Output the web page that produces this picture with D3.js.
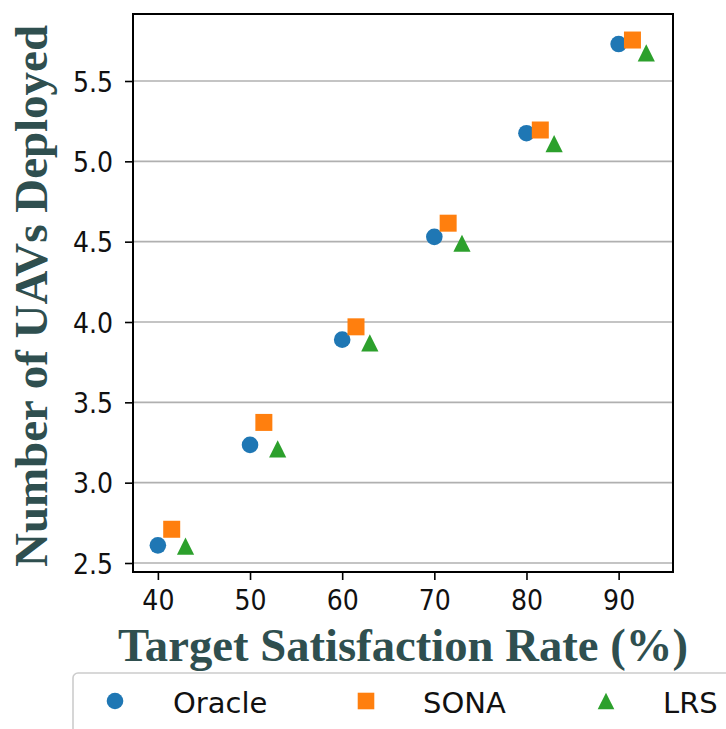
<!DOCTYPE html>
<html>
<head>
<meta charset="utf-8">
<script src="https://cdn.jsdelivr.net/npm/d3@7"></script>
<style>
  html, body { margin: 0; padding: 0; background: #fff; }
  svg { display: block; }
</style>
</head>
<body>
<svg id="chart" width="726" height="729"></svg>
<script>
// ---- data ----
const xCategories = [40, 50, 60, 70, 80, 90];
const oracleX = [40, 50, 60, 70, 80, 90];
const oracleY = [2.61, 3.235, 3.89, 4.53, 5.175, 5.73];
const sonaX = [41.5, 51.5, 61.5, 71.5, 81.5, 91.5];
const sonaY = [2.71, 3.375, 3.97, 4.615, 5.195, 5.755];
const lrsX = [43, 53, 63, 73, 83, 93];
const lrsY = [2.605, 3.21, 3.87, 4.49, 5.11, 5.675];
const xTicks = [40, 50, 60, 70, 80, 90];
const yTicks = [2.5, 3.0, 3.5, 4.0, 4.5, 5.0, 5.5];
const seriesNames = ["Oracle", "SONA", "LRS"];
const seriesColors = ["#1f77b4", "#ff7f0e", "#2ca02c"];

const series = [
  {name: seriesNames[0], xs: oracleX, ys: oracleY, color: seriesColors[0], shape: "circle"},
  {name: seriesNames[1], xs: sonaX, ys: sonaY, color: seriesColors[1], shape: "square"},
  {name: seriesNames[2], xs: lrsX, ys: lrsY, color: seriesColors[2], shape: "triangle"}
];

// ---- layout ----
const L = 133, R = 673, T = 14, B = 572;
const svg = d3.select("#chart");
const x = d3.scaleLinear().domain([37.3, 95.9]).range([L, R]);
const y = d3.scaleLinear().domain([2.444, 5.917]).range([B, T]);

const tickFont = "'DejaVu Sans Condensed', 'DejaVu Sans', sans-serif";
const legendFont = "'DejaVu Sans', sans-serif";

// gridlines
svg.append("g")
  .selectAll("line")
  .data(yTicks)
  .join("line")
  .attr("x1", L).attr("x2", R)
  .attr("y1", d => y(d)).attr("y2", d => y(d))
  .attr("stroke", "#b0b0b0")
  .attr("stroke-width", 1.6);

// axes
const xAxis = svg.append("g")
  .attr("transform", `translate(0,${B})`)
  .call(d3.axisBottom(x).tickValues(xTicks).tickSize(8).tickPadding(8).tickFormat(d3.format("d")));
const yAxis = svg.append("g")
  .attr("transform", `translate(${L},0)`)
  .call(d3.axisLeft(y).tickValues(yTicks).tickSize(8).tickPadding(12).tickFormat(d3.format(".1f")));
[xAxis, yAxis].forEach(g => {
  g.select(".domain").remove();
  g.selectAll(".tick line").attr("stroke", "#000").attr("stroke-width", 1.6);
  g.selectAll("text")
    .attr("fill", "#111")
    .style("font-family", tickFont)
    .style("font-size", "28px");
});
xAxis.selectAll("text").attr("dy", "0.78em");
yAxis.selectAll("text").attr("dy", "0.36em");

// frame
svg.append("rect")
  .attr("x", L).attr("y", T)
  .attr("width", R - L).attr("height", B - T)
  .attr("fill", "none")
  .attr("stroke", "#000")
  .attr("stroke-width", 2);

// markers
function markerPath(shape, s) {
  if (shape === "circle") return d3.symbol(d3.symbolCircle, Math.PI * s * s)();
  if (shape === "square") return d3.symbol(d3.symbolSquare, (2 * s) * (2 * s))();
  // matplotlib '^' : vertices (0,-s),(-s,s),(s,s) centered at mid-height
  return `M0,${-s}L${-s},${s}L${s},${s}Z`;
}
const sizes = {circle: 8.3, square: 8.5, triangle: 8.6};
series.forEach(sr => {
  svg.append("g")
    .selectAll("path")
    .data(sr.xs.map((v, i) => [v, sr.ys[i]]))
    .join("path")
    .attr("d", markerPath(sr.shape, sizes[sr.shape]))
    .attr("transform", d => `translate(${x(d[0])},${y(d[1])})`)
    .attr("fill", sr.color);
});

// axis titles
const titleColor = "#2f4f4f";
svg.append("text")
  .attr("x", (L + R) / 2).attr("y", 661)
  .attr("text-anchor", "middle")
  .attr("textLength", 570).attr("lengthAdjust", "spacingAndGlyphs")
  .style("font-family", "'Liberation Serif', 'Times New Roman', serif")
  .style("font-weight", "bold")
  .style("font-size", "46px")
  .attr("fill", titleColor)
  .text("Target Satisfaction Rate (%)");

svg.append("text")
  .attr("transform", `translate(47,296) rotate(-90)`)
  .attr("text-anchor", "middle")
  .attr("textLength", 542).attr("lengthAdjust", "spacingAndGlyphs")
  .style("font-family", "'Liberation Serif', 'Times New Roman', serif")
  .style("font-weight", "bold")
  .style("font-size", "46px")
  .attr("fill", titleColor)
  .text("Number of UAVs Deployed");

// legend
const legend = svg.append("g");
legend.append("rect")
  .attr("x", 73).attr("y", 673)
  .attr("width", 700).attr("height", 80)
  .attr("rx", 5)
  .attr("fill", "#fff")
  .attr("stroke", "#cccccc")
  .attr("stroke-width", 1.6);
const legendMarkerX = [115, 366, 606];
const legendTextX = [173, 423, 663];
series.forEach((sr, i) => {
  legend.append("path")
    .attr("d", markerPath(sr.shape, 8.3))
    .attr("transform", `translate(${legendMarkerX[i]},701)`)
    .attr("fill", sr.color);
  legend.append("text")
    .attr("x", legendTextX[i]).attr("y", 713)
    .style("font-family", legendFont)
    .style("font-size", "29px")
    .attr("fill", "#111")
    .text(sr.name);
});
</script>
</body>
</html>
